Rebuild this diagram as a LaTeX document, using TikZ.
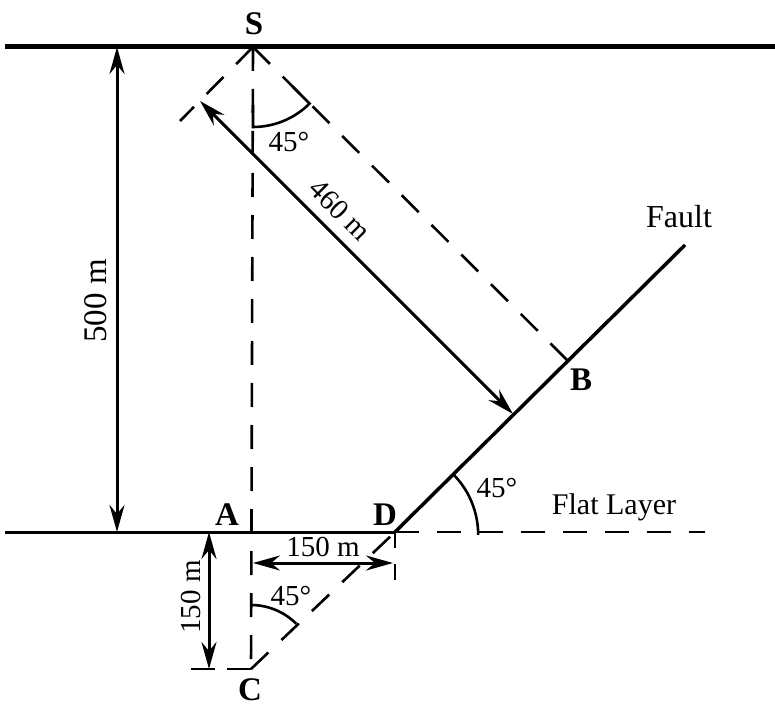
\documentclass[tikz,border=0pt]{standalone}
\usepackage{fontspec}
\setmainfont{Liberation Serif}
\usetikzlibrary{arrows.meta}
\tikzset{
  solidline/.style={line width=3pt},
  thickline/.style={line width=5pt},
  dashline/.style={line width=2.6pt, dash pattern=on 24pt off 18pt},
  dimarrow/.style={line width=3pt, {Stealth[length=27pt,width=15pt,inset=9pt]}-{Stealth[length=27pt,width=15pt,inset=9pt]}},
  anglearc/.style={line width=2.6pt},
  lbl/.style={font=\fontsize{29}{32}\selectfont, inner sep=0pt},
  pt/.style={font=\fontsize{33}{35}\selectfont\bfseries, inner sep=0pt},
}
\begin{document}
\begin{tikzpicture}
\useasboundingbox (0,0) rectangle (775pt,705pt);
\begin{scope}[x=1pt,y=1pt]
% key points
\coordinate (S) at (253,658);
\coordinate (C) at (251,36);
\coordinate (D) at (395,173);
\coordinate (B) at (567,345);
\coordinate (Ftop) at (685,460);
\coordinate (Q) at (200,604);
\coordinate (R) at (513,291);
\coordinate (P) at (180,584);
\coordinate (TL) at (5,658);
\coordinate (TR) at (775,658);
\coordinate (BL) at (5,173);
\coordinate (BR) at (705,173);
\coordinate (Cl) at (190,36);
\coordinate (Dd) at (395,123);
\coordinate (H1) at (253,142);
\coordinate (H2) at (393,142);
\coordinate (V1) at (209,173);
\coordinate (V2) at (209,36);
\coordinate (W1) at (117,658);
\coordinate (W2) at (117,173);

% surface and layer
\draw[thickline] (TL) -- (TR);
\draw[solidline] (BL) -- (D);
\draw[dashline] (D) -- (BR);
% fault
\draw[line width=3.5pt] (D) -- (Ftop);

% dashed construction lines
\draw[dashline] (S) -- (C);
\draw[dashline] (S) -- (P);
\draw[dashline] (S) -- (B);
\draw[dashline] (C) -- (D);
\draw[dashline, dash pattern=on 24pt off 12pt] (C) -- (Cl);
\draw[dashline, dash pattern=on 16pt off 16pt] (D) -- (Dd);

% dimension arrows
\draw[dimarrow] (Q) -- (R);
\draw[dimarrow] (W1) -- (W2);
\draw[dimarrow] (V1) -- (V2);
\draw[dimarrow] (H1) -- (H2);

% angle arcs
\draw[anglearc] ([shift={(-90:58pt)}]S) -- ([shift={(-90:80pt)}]S)
  arc[start angle=-90, end angle=-45, radius=80pt] -- ([shift={(-45:56pt)}]S);
\draw[anglearc] ([shift={(90:64pt)}]C) arc[start angle=90, end angle=45, radius=64pt];
\draw[anglearc] ([shift={(45:82pt)}]D) arc[start angle=45, end angle=0, radius=86pt];

% labels
\node[pt] (lS) at (254,681) {S};
\node[pt] (lA) at (227,190) {A};
\node[pt] (lD) at (385,190) {D};
\node[pt] (lB) at (581,325) {B};
\node[pt] (lC) at (250,15) {C};
\node[lbl, font=\fontsize{32}{34}\selectfont] (lFault) at (679,488) {Fault};
\node[lbl, font=\fontsize{30}{32}\selectfont] (lFlat) at (614,198) {Flat Layer};
\node[lbl] (l45a) at (289,563) {45°};
\node[lbl] (l45b) at (291,109) {45°};
\node[lbl] (l45c) at (497,217) {45°};
\node[lbl, rotate=90, font=\fontsize{33}{34}\selectfont] (l500) at (96,404) {500 m};
\node[lbl, rotate=90] (l150v) at (191,108) {150 m};
\node[lbl] (l150h) at (323,158) {150 m};
\node[lbl, rotate=-45] (l460) at (340,495) {460 m};
\end{scope}
\end{tikzpicture}
\end{document}
